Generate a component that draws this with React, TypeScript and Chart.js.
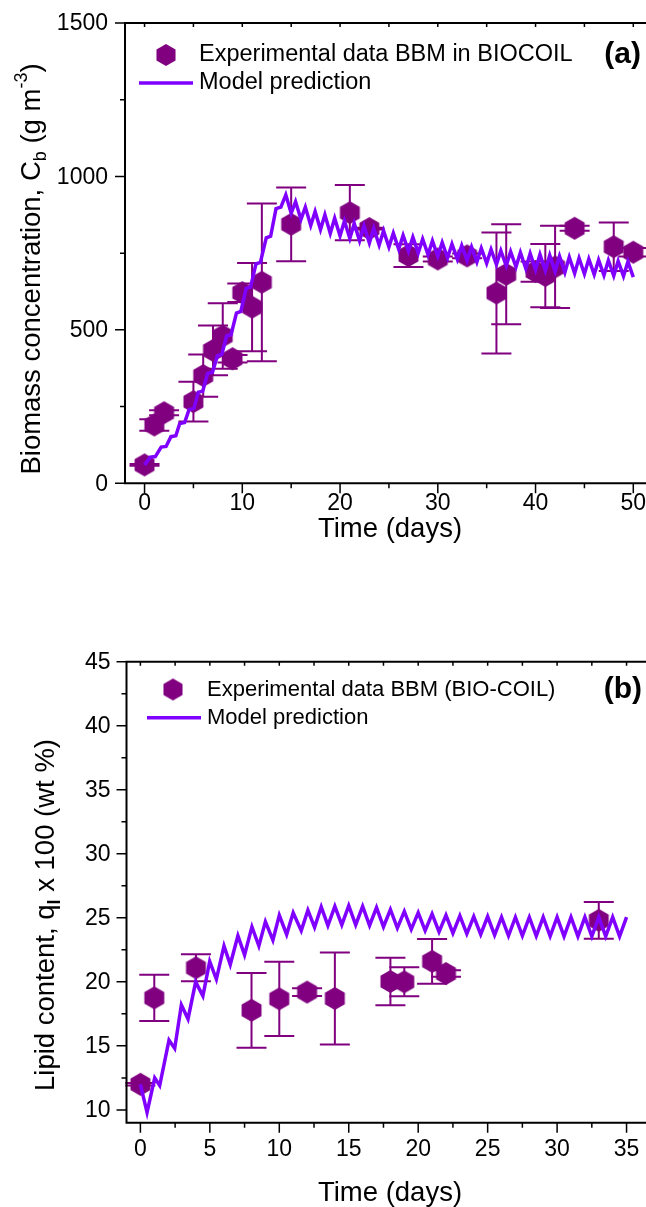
import React, { useEffect, useRef } from 'react';
import { Chart, registerables } from 'chart.js';
Chart.register(...registerables);

const FONT = '"Liberation Sans", Arial, sans-serif';
const MARKER = '#800080';
const LINE = '#8000ff';

// ---------- Panel (a): biomass ----------
const bioDays = [0, 1, 2, 5, 6, 7, 8, 9, 10, 11, 12, 15, 21, 23, 27, 30, 33, 36, 37, 40, 41, 42, 44, 48, 50];
const bioConc = [60, 190, 230, 266, 351, 433, 480, 406, 621, 574, 655, 844, 882, 830, 742, 731, 741, 620, 681, 690, 677, 705, 831, 771, 753];
const bioErr = [3, 19, 8, 65, 69, 81, 107, 12, 30, 144, 257, 120, 90, 3, 37, 8, 8, 197, 163, 33, 103, 134, 8, 79, 14];

const bioModelDays = [
  0, 0.6, 1.1, 1.7, 2.2, 2.7, 3.2, 3.6, 4.1, 4.55, 5.05, 5.5, 5.95, 6.45, 6.95, 7.45, 7.9, 8.4, 8.85, 9.4,
  9.85, 10.4, 10.85, 11.4, 11.85, 12.45, 12.9, 13.45, 13.95, 14.45, 15.0,
  15.45, 16, 16.45, 17, 17.45, 18, 18.45, 19, 19.45, 20, 20.45, 21, 21.45, 22, 22.45, 23, 23.45, 24, 24.45, 25,
  25.45, 26, 26.45, 27, 27.45, 28, 28.45, 29, 29.45, 30, 30.45, 31, 31.45, 32, 32.45, 33, 33.45, 34, 34.45, 35,
  35.45, 36, 36.45, 37, 37.45, 38, 38.45, 39, 39.45, 40, 40.45, 41, 41.45, 42, 42.45, 43, 43.45, 44, 44.45, 45,
  45.45, 46, 46.45, 47, 47.45, 48, 48.45, 49, 49.45, 50,
];
const bioModelConc = [
  60, 85, 87, 118, 120, 152, 155, 195, 198, 240, 244, 297, 300, 358, 362, 415, 420, 480, 484, 555,
  560, 635, 640, 715, 720, 800, 805, 895, 900, 940, 880,
  918, 860, 900, 840, 886, 827, 875, 814, 864, 806, 855, 798, 847, 790, 839, 783, 831, 776, 823, 770,
  815, 763, 808, 757, 802, 751, 796, 745, 790, 740, 785, 735, 780, 730, 775, 726, 770, 721, 766, 717,
  762, 713, 758, 709, 755, 705, 752, 700, 749, 696, 746, 693, 743, 690, 740, 687, 737, 684, 734, 682,
  731, 680, 728, 678, 726, 676, 724, 675, 722, 672,
];
const bioXTicks = [0, 10, 20, 30, 40, 50];
const bioXMinor = [5, 15, 25, 35, 45];
const bioYTicks = [0, 500, 1000, 1500];
const bioYMinor = [250, 750, 1250];

// ---------- Panel (b): lipid ----------
const lipDays = [0, 1, 4, 8, 10, 12, 14, 18, 19, 21, 22, 33];
const lipContent = [12.0, 18.75, 21.1, 17.78, 18.67, 19.2, 18.7, 20.03, 20.0, 21.6, 20.65, 24.8];
const lipErr = [0.1, 1.8, 1.05, 2.92, 2.9, 0.3, 3.6, 1.85, 1.13, 1.75, 0.25, 1.43];

const lipModelDays = [
  0, 0.48, 1.03, 1.39, 2.06, 2.47, 2.95, 3.43, 3.98, 4.5, 4.99, 5.47, 6.02, 6.47, 7.02, 7.5, 8.03, 8.53, 9.0, 9.54,
  10, 10.53, 11, 11.58, 12.06, 12.54, 13.02, 13.5, 14, 14.5, 15, 15.5, 16, 16.5, 17, 17.5, 18, 18.5, 19, 19.5,
  20, 20.5, 21, 21.5, 22, 22.5, 23, 23.5, 24, 24.5, 25, 25.5, 26, 26.5, 27, 27.5, 28, 28.5, 29, 29.5,
  30, 30.5, 31, 31.5, 32, 32.5, 33, 33.5, 34, 34.5, 35,
];
const lipModelContent = [
  12.0, 9.8, 12.5, 11.9, 15.45, 14.8, 18.2, 17.1, 20.0, 18.9, 21.6, 20.2, 22.8, 21.35, 23.6, 22.1, 24.3, 22.8, 24.7, 23.25,
  25.2, 23.7, 25.4, 24.0, 25.6, 24.26, 25.85, 24.4, 25.9, 24.45, 25.95, 24.45, 25.9, 24.4, 25.8, 24.3, 25.65, 24.2, 25.5, 24.1,
  25.4, 24.0, 25.3, 23.9, 25.2, 23.8, 25.15, 23.75, 25.1, 23.7, 25.1, 23.65, 25.05, 23.6, 25.05, 23.6, 25.05, 23.58, 25.05, 23.56,
  25.05, 23.55, 25.05, 23.55, 25.05, 23.55, 25.05, 23.55, 25.05, 23.55, 25.05,
];
const lipXTicks = [0, 5, 10, 15, 20, 25, 30, 35];
const lipXMinor = [2.5, 7.5, 12.5, 17.5, 22.5, 27.5, 32.5];
const lipYTicks = [10, 15, 20, 25, 30, 35, 40, 45];
const lipYMinor = [12.5, 17.5, 22.5, 27.5, 32.5, 37.5, 42.5];

type Seg = { t: string; sub?: boolean; sup?: boolean; bold?: boolean };

const yTitleA: Seg[] = [{ t: 'Biomass concentration, C' }, { t: 'b', sub: true }, { t: ' (g m' }, { t: '-3', sup: true }, { t: ')' }];
const yTitleB: Seg[] = [{ t: 'Lipid content, q' }, { t: 'l', sub: true, bold: true }, { t: ' x 100 (wt %)' }];

function hexCanvas(r: number, color: string) {
  const s = Math.ceil(r * 2 + 2);
  const c = document.createElement('canvas');
  c.width = s;
  c.height = s;
  const ctx = c.getContext('2d')!;
  ctx.fillStyle = color;
  ctx.beginPath();
  for (let i = 0; i < 6; i++) {
    const a = -Math.PI / 2 + (i * Math.PI) / 3;
    const x = s / 2 + r * Math.cos(a);
    const y = s / 2 + r * Math.sin(a);
    if (i === 0) ctx.moveTo(x, y);
    else ctx.lineTo(x, y);
  }
  ctx.closePath();
  ctx.fill();
  return c;
}

function drawSegs(ctx: CanvasRenderingContext2D, segs: Seg[], size: number) {
  const small = Math.round(size * 0.65);
  const widths = segs.map((s) => {
    ctx.font = `${s.bold ? 'bold ' : ''}${s.sub || s.sup ? small : size}px ${FONT}`;
    return ctx.measureText(s.t).width;
  });
  const total = widths.reduce((a, b) => a + b, 0);
  let x = -total / 2;
  ctx.textBaseline = 'middle';
  ctx.textAlign = 'left';
  segs.forEach((s, i) => {
    ctx.font = `${s.bold ? 'bold ' : ''}${s.sub || s.sup ? small : size}px ${FONT}`;
    let dy = 0;
    if (s.sub) dy = size * 0.32;
    if (s.sup) dy = -size * 0.38;
    ctx.fillText(s.t, x, dy);
    x += widths[i];
  });
}

interface PanelCfg {
  xMinor: number[];
  yMinor: number[];
  xMajor: number[];
  yMajor: number[];
  tickFont: number;
  xLabelY: number;
  yLabelGap: number;
  titleFont: number;
  xTitle: { x: number; y: number };
  yTitle: { x: number; y: number; segs: Seg[] };
  legendFont: number;
  legend: { hexX: number; hexY: number; textX: number; lineX0: number; lineX1: number; lineY: number; label1: string; label2: string };
  tag: { text: string; x: number; y: number; size: number };
  errX: number[];
  errY: number[];
  errE: number[];
}

function panelPlugin(cfg: PanelCfg, hex: HTMLCanvasElement) {
  return {
    id: 'panel',
    beforeDatasetsDraw(chart: any) {
      const ctx: CanvasRenderingContext2D = chart.ctx;
      const xs = chart.scales.x;
      const ys = chart.scales.y;
      ctx.save();
      ctx.strokeStyle = MARKER;
      ctx.lineWidth = 2;
      cfg.errX.forEach((xv, i) => {
        const px = xs.getPixelForValue(xv);
        const t = ys.getPixelForValue(cfg.errY[i] + cfg.errE[i]);
        const b = ys.getPixelForValue(cfg.errY[i] - cfg.errE[i]);
        ctx.beginPath();
        ctx.moveTo(px, t);
        ctx.lineTo(px, b);
        ctx.moveTo(px - 15, t);
        ctx.lineTo(px + 15, t);
        ctx.moveTo(px - 15, b);
        ctx.lineTo(px + 15, b);
        ctx.stroke();
      });
      ctx.restore();
    },
    afterDraw(chart: any) {
      const ctx: CanvasRenderingContext2D = chart.ctx;
      const { left, right, top, bottom } = chart.chartArea;
      const xs = chart.scales.x;
      const ys = chart.scales.y;
      ctx.save();
      ctx.strokeStyle = '#000';
      ctx.lineWidth = 2;
      ctx.beginPath();
      ctx.moveTo(left, top);
      ctx.lineTo(left, bottom);
      ctx.moveTo(left - 1, bottom);
      ctx.lineTo(right + 2, bottom);
      ctx.moveTo(left - 1, top);
      ctx.lineTo(right + 2, top);
      ctx.stroke();
      ctx.lineWidth = 1.5;
      ctx.beginPath();
      cfg.xMajor.forEach((v) => {
        const p = xs.getPixelForValue(v);
        ctx.moveTo(p, bottom);
        ctx.lineTo(p, bottom + 10);
        ctx.moveTo(p, top);
        ctx.lineTo(p, top + 4);
      });
      cfg.xMinor.forEach((v) => {
        const p = xs.getPixelForValue(v);
        ctx.moveTo(p, bottom);
        ctx.lineTo(p, bottom + 5);
        ctx.moveTo(p, top);
        ctx.lineTo(p, top + 4);
      });
      cfg.yMajor.forEach((v) => {
        const p = ys.getPixelForValue(v);
        ctx.moveTo(left, p);
        ctx.lineTo(left - 10, p);
      });
      cfg.yMinor.forEach((v) => {
        const p = ys.getPixelForValue(v);
        ctx.moveTo(left, p);
        ctx.lineTo(left - 5, p);
      });
      ctx.stroke();

      // tick labels
      ctx.fillStyle = '#000';
      ctx.font = `${cfg.tickFont}px ${FONT}`;
      ctx.textBaseline = 'middle';
      ctx.textAlign = 'center';
      cfg.xMajor.forEach((v) => {
        ctx.fillText(String(v), xs.getPixelForValue(v), cfg.xLabelY);
      });
      ctx.textAlign = 'right';
      cfg.yMajor.forEach((v) => {
        ctx.fillText(String(v), left - cfg.yLabelGap, ys.getPixelForValue(v) + 1);
      });

      // titles
      ctx.font = `${cfg.titleFont}px ${FONT}`;
      ctx.textAlign = 'center';
      ctx.fillText('Time (days)', cfg.xTitle.x, cfg.xTitle.y);
      ctx.save();
      ctx.translate(cfg.yTitle.x, cfg.yTitle.y);
      ctx.rotate(-Math.PI / 2);
      drawSegs(ctx, cfg.yTitle.segs, cfg.titleFont);
      ctx.restore();

      // legend
      const L = cfg.legend;
      ctx.drawImage(hex, L.hexX - hex.width / 2, L.hexY - hex.height / 2);
      ctx.strokeStyle = LINE;
      ctx.lineWidth = 3.5;
      ctx.beginPath();
      ctx.moveTo(L.lineX0, L.lineY);
      ctx.lineTo(L.lineX1, L.lineY);
      ctx.stroke();
      ctx.fillStyle = '#000';
      ctx.font = `${cfg.legendFont}px ${FONT}`;
      ctx.textAlign = 'left';
      ctx.textBaseline = 'middle';
      ctx.fillText(L.label1, L.textX, L.hexY);
      ctx.fillText(L.label2, L.textX, L.lineY);
      ctx.font = `bold ${cfg.tag.size}px ${FONT}`;
      ctx.textAlign = 'right';
      ctx.fillText(cfg.tag.text, cfg.tag.x, cfg.tag.y);
      ctx.restore();
    },
  };
}

function buildChart(
  canvas: HTMLCanvasElement,
  opts: {
    mx: number[]; my: number[]; ex: number[]; ey: number[];
    xmin: number; xmax: number; ymin: number; ymax: number;
    padTop: number; yWidth: number; xHeight: number;
    cfg: PanelCfg;
  }
) {
  const hex = hexCanvas(11.5, MARKER);
  const hexLegend = hexCanvas(11, MARKER);
  return new Chart(canvas, {
    type: 'scatter',
    data: {
      datasets: [
        {
          type: 'line',
          data: opts.mx.map((x, i) => ({ x, y: opts.my[i] })),
          borderColor: LINE,
          borderWidth: 3.5,
          pointRadius: 0,
          fill: false,
          tension: 0,
        } as any,
        {
          type: 'scatter',
          data: opts.ex.map((x, i) => ({ x, y: opts.ey[i] })),
          pointStyle: hex,
          pointRadius: 11,
          backgroundColor: MARKER,
          borderWidth: 0,
        } as any,
      ],
    },
    options: {
      animation: false,
      responsive: false,
      devicePixelRatio: 1,
      layout: { autoPadding: false, padding: { top: opts.padTop, right: 0, left: 0, bottom: 0 } },
      plugins: { legend: { display: false }, tooltip: { enabled: false } },
      scales: {
        x: {
          type: 'linear',
          min: opts.xmin,
          max: opts.xmax,
          afterFit: (s: any) => {
            s.height = opts.xHeight;
          },
          grid: { display: false, drawTicks: false },
          border: { display: false },
          ticks: { display: false },
        },
        y: {
          type: 'linear',
          min: opts.ymin,
          max: opts.ymax,
          afterFit: (s: any) => {
            s.width = opts.yWidth;
          },
          grid: { display: false, drawTicks: false },
          border: { display: false },
          ticks: { display: false },
        },
      },
    } as any,
    plugins: [panelPlugin(opts.cfg, hexLegend) as any],
  });
}

export default function App() {
  const topRef = useRef<HTMLCanvasElement>(null);
  const botRef = useRef<HTMLCanvasElement>(null);

  useEffect(() => {
    document.body.style.margin = '0';
    document.body.style.overflow = 'hidden';
    const a = buildChart(topRef.current!, {
      mx: bioModelDays, my: bioModelConc, ex: bioDays, ey: bioConc,
      xmin: -2, xmax: 51.3, ymin: 0, ymax: 1500,
      padTop: 23, yWidth: 125, xHeight: 116.7,
      cfg: {
        xMinor: bioXMinor, yMinor: bioYMinor, xMajor: bioXTicks, yMajor: bioYTicks,
        tickFont: 23, xLabelY: 504, yLabelGap: 17,
        titleFont: 27.5,
        xTitle: { x: 390, y: 529 },
        yTitle: { x: 32, y: 269, segs: yTitleA },
        legendFont: 23.5,
        legend: { hexX: 166, hexY: 55, textX: 199, lineX0: 139, lineX1: 193, lineY: 83, label1: 'Experimental data BBM in BIOCOIL', label2: 'Model prediction' },
        tag: { text: '(a)', x: 641, y: 55, size: 30 },
        errX: bioDays, errY: bioConc, errE: bioErr,
      },
    });
    const b = buildChart(botRef.current!, {
      mx: lipModelDays, my: lipModelContent, ex: lipDays, ey: lipContent,
      xmin: -1, xmax: 36.4, ymin: 9, ymax: 45,
      padTop: 61.7, yWidth: 126.5, xHeight: 84.3,
      cfg: {
        xMinor: lipXMinor, yMinor: lipYMinor, xMajor: lipXTicks, yMajor: lipYTicks,
        tickFont: 23, xLabelY: 550, yLabelGap: 16,
        titleFont: 27.5,
        xTitle: { x: 390, y: 593 },
        yTitle: { x: 46, y: 315, segs: yTitleB },
        legendFont: 22,
        legend: { hexX: 173, hexY: 89.5, textX: 207, lineX0: 147, lineX1: 201, lineY: 117.7, label1: 'Experimental data BBM (BIO-COIL)', label2: 'Model prediction' },
        tag: { text: '(b)', x: 642, y: 90, size: 30 },
        errX: lipDays, errY: lipContent, errE: lipErr,
      },
    });
    return () => {
      a.destroy();
      b.destroy();
    };
  }, []);

  return (
    <div style={{ width: 646, height: 1207, position: 'relative', background: '#fff' }}>
      <canvas ref={topRef} width={646} height={600} style={{ display: 'block', width: 646, height: 600 }} />
      <canvas ref={botRef} width={646} height={607} style={{ display: 'block', width: 646, height: 607 }} />
    </div>
  );
}
